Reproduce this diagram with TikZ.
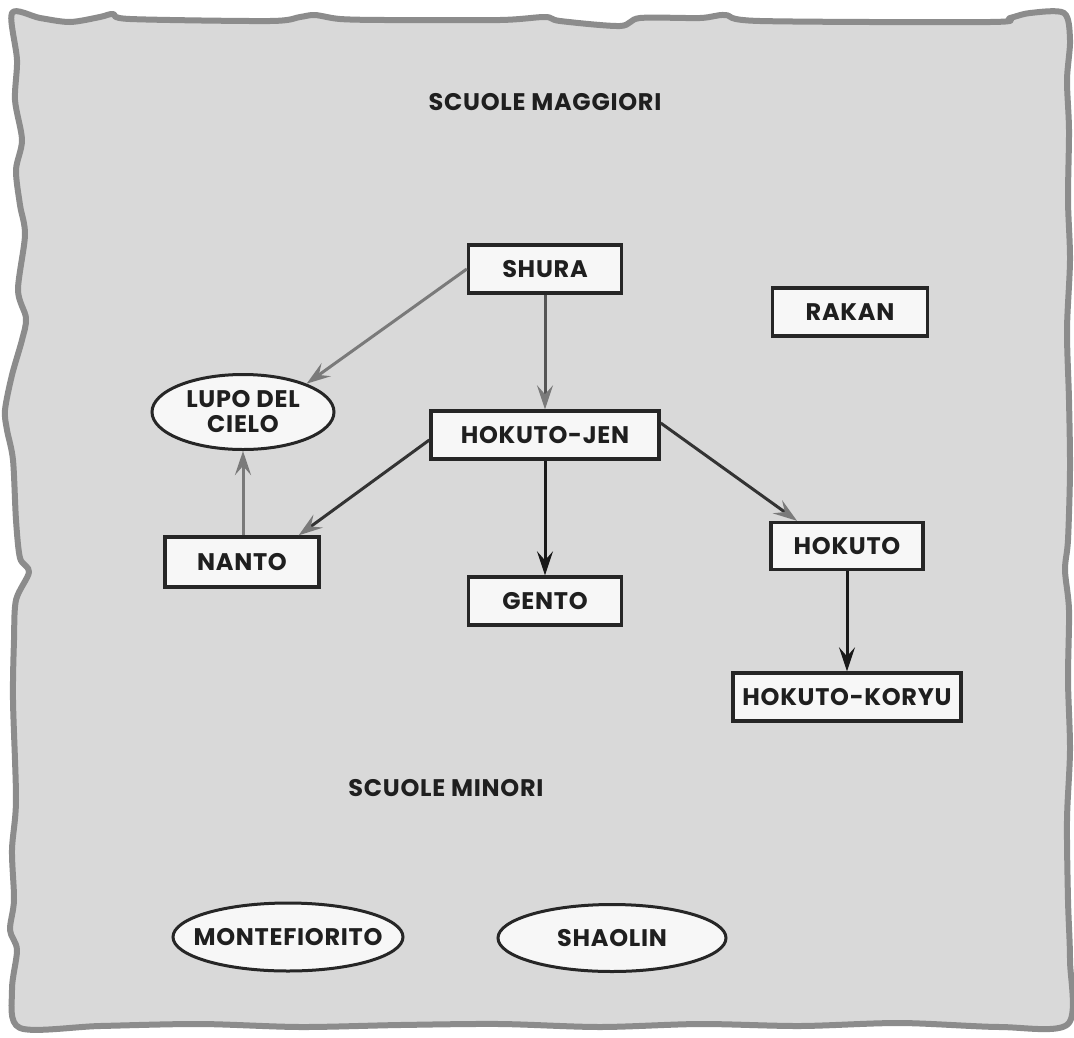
\documentclass[tikz,border=0pt]{standalone}
\usepackage{fontspec}
\setmainfont{Poppins}
\usetikzlibrary{arrows.meta,shapes.geometric}
\definecolor{paper}{HTML}{D9D9D9}
\definecolor{frame}{HTML}{8C8C8C}
\definecolor{boxfill}{HTML}{F7F7F7}
\definecolor{greyline}{HTML}{7A7A7A}
\definecolor{darkline}{HTML}{333333}
\begin{document}
\begin{tikzpicture}[x=1pt,y=-1pt,
  txt/.style={font=\fontsize{24}{25}\selectfont\bfseries\addfontfeature{LetterSpace=3}, text=black!88},
  schoolbox/.style={txt, draw=black!85, line width=3.4pt, fill=boxfill,
    rectangle, minimum height=48pt, inner sep=0pt},
  schoolell/.style={txt, draw=black!85, line width=3pt, fill=boxfill,
    ellipse, inner sep=0pt, align=center},
  heading/.style={txt},
  tip/.style={-{Stealth[length=24pt,width=16pt,inset=9pt]}, line width=3pt},
  greyarrow/.style={tip, draw=greyline},
  darkarrow/.style={tip, draw=darkline, -{Stealth[length=24pt,width=16pt,inset=9pt,color=greyline]}},
  blackarrow/.style={tip, draw=black!90}
]
\useasboundingbox (0,0) rectangle (1074,1037);
\fill[white] (0,0) rectangle (1074,1037);
% wavy frame
\draw[frame, line width=6pt, fill=paper, line join=round]
  plot[smooth cycle, tension=0.5] coordinates {
  (12,13) (40,18) (70,22) (100,17) (113,14) (130,19) (270,21) (300,17) (315,15) (340,19)
  (385,20) (500,20) (545,17) (560,21) (620,26) (640,18) (700,18) (725,15) (760,21)
  (990,22) (1010,18) (1030,13) (1064,13)
  (1070,40) (1067,80) (1069,130) (1068,200) (1070,260) (1067,330) (1069,400) (1070,470)
  (1068,540) (1065,570) (1069,610) (1068,680) (1070,750) (1067,820) (1068,900) (1070,960) (1068,1024)
  (1000,1027) (900,1023) (800,1026) (700,1024) (600,1027) (500,1024) (400,1025) (300,1027)
  (200,1024) (100,1026) (20,1028)
  (12,990) (17,950) (10,930) (14,900) (12,850) (16,800) (13,700) (14,640) (16,600)
  (29,572) (20,558) (16,520) (13,460) (7,430) (5,410) (12,375) (22,340) (26,318) (18,290)
  (25,235) (20,205) (16,170) (22,140) (15,100) (17,60)
  };

\node[heading] (maggiori) at (545,102) {SCUOLE MAGGIORI};
\node[heading] (minori) at (446,788) {SCUOLE MINORI};

\node[schoolbox, minimum width=153pt] (shura) at (545,269) {SHURA};
\node[schoolbox, minimum width=155pt] (rakan) at (850,312) {RAKAN};
\node[schoolell, minimum width=182pt, minimum height=75pt] (lupo) at (243,412) {LUPO DEL\\CIELO};
\node[schoolbox, minimum width=228pt] (hj) at (545,435) {HOKUTO-JEN};
\node[schoolbox, minimum width=154pt, minimum height=50pt] (nanto) at (242,562) {NANTO};
\node[schoolbox, minimum width=153pt] (gento) at (545,601) {GENTO};
\node[schoolbox, minimum width=152pt, minimum height=47pt] (hokuto) at (847,546) {HOKUTO};
\node[schoolbox, minimum width=228pt] (koryu) at (847,697) {HOKUTO-KORYU};
\node[schoolell, minimum width=230pt, minimum height=68pt, inner xsep=-14pt] (monte) at (288,937) {MONTEFIORITO};
\node[schoolell, minimum width=228pt, minimum height=67pt] (shaolin) at (612,938) {SHAOLIN};

\draw[greyarrow] (shura.west) -- (lupo.24);
\draw[darkarrow, draw=greyline!70!black] (shura.south) -- (hj.north);
\draw[darkarrow] ([yshift=-5pt]hj.west) -- ([xshift=-22pt]nanto.north east);
\draw[blackarrow] (hj.south) -- (gento.north);
\draw[greyarrow] (nanto.north -| lupo.south) -- (lupo.south);
\draw[darkarrow] ([yshift=12pt]hj.east) -- ([xshift=-50pt]hokuto.north);
\draw[blackarrow] (hokuto.south) -- (koryu.north);
\end{tikzpicture}
\end{document}
